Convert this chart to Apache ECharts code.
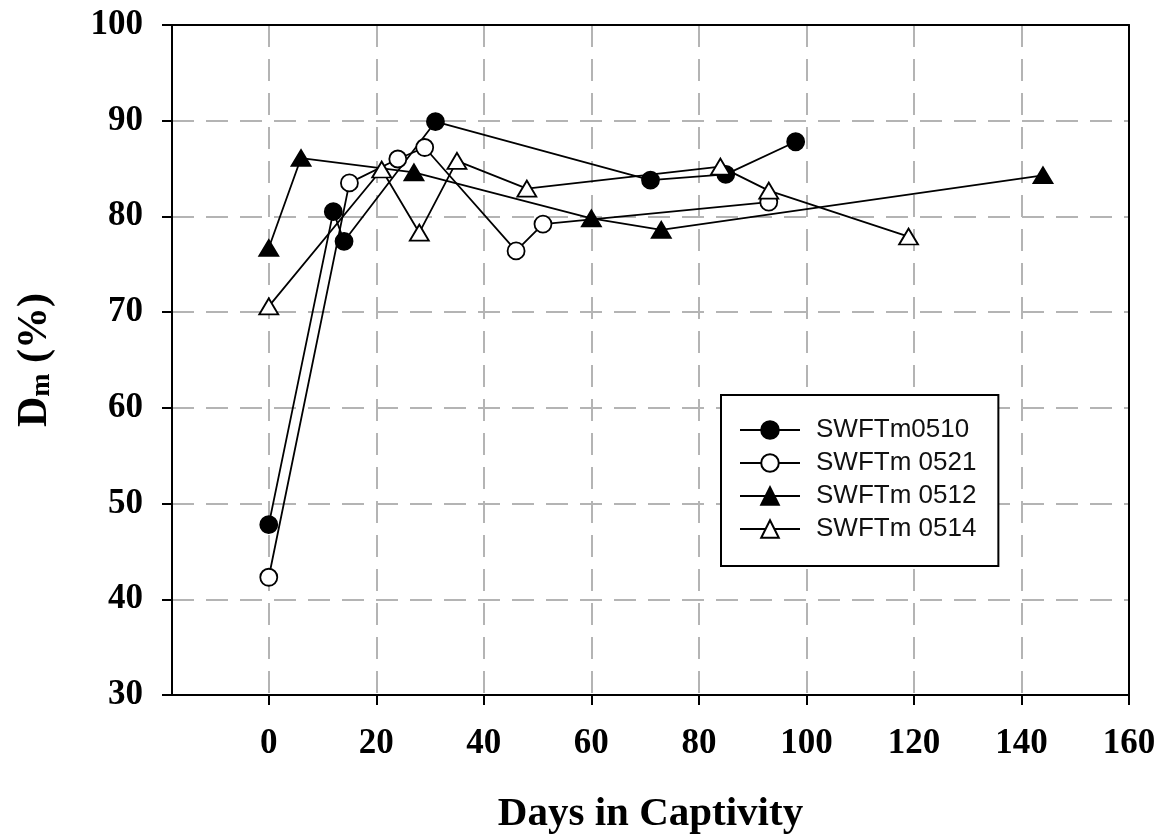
<!DOCTYPE html>
<html>
<head>
<meta charset="utf-8">
<script src="https://cdn.jsdelivr.net/npm/echarts@6/dist/echarts.min.js"></script>
<style>
html,body{margin:0;padding:0;background:#fff;}
#chart{width:1162px;height:835px;}
</style>
</head>
<body>
<div id="chart"></div>
<script>
// ---- data ----
const xTicks = [0, 20, 40, 60, 80, 100, 120, 140, 160];
const yTicks = [30, 40, 50, 60, 70, 80, 90, 100];
const seriesNames = ['SWFTm0510', 'SWFTm 0521', 'SWFTm 0512', 'SWFTm 0514'];
const s0510 = [[0, 47.8], [12, 80.5], [14, 77.4], [31, 89.9], [71, 83.8], [85, 84.4], [98, 87.8]];
const s0521 = [[0, 42.3], [15, 83.5], [24, 86.0], [29, 87.2], [46, 76.4], [51, 79.2], [93, 81.5]];
const s0512 = [[0, 76.7], [6, 86.1], [27, 84.6], [60, 79.8], [73, 78.6], [144, 84.3]];
const s0514 = [[0, 70.6], [21, 84.9], [28, 78.3], [35, 85.8], [48, 82.9], [84, 85.2], [93, 82.7], [119, 77.9]];

const serif = "'Liberation Serif', 'Times New Roman', serif";
const sans = "'Liberation Sans', Arial, sans-serif";
const gridLine = {show: true, lineStyle: {color: '#b4b4b4', width: 2, type: [22, 12]}};
const frameAxis = {
  axisLine: {show: true, onZero: false, lineStyle: {color: '#000', width: 2}},
  axisTick: {show: false}, axisLabel: {show: false}, splitLine: {show: false}
};

function mkSeries(name, data, symbol, filled) {
  const isTri = symbol === 'triangle';
  return {
    name: name, type: 'line', data: data,
    xAxisIndex: 0, yAxisIndex: 0,
    symbol: symbol,
    symbolSize: isTri ? [19, 16] : 17,
    showAllSymbol: true,
    lineStyle: {color: '#000', width: 1.8},
    itemStyle: {color: filled ? '#000' : '#fff', borderColor: '#000', borderWidth: 1.8},
    emphasis: {disabled: true},
    z: 3
  };
}

const chart = echarts.init(document.getElementById('chart'), null, {renderer: 'canvas'});
chart.setOption({
  animation: false,
  backgroundColor: '#fff',
  grid: {left: 172, right: 33, top: 25, bottom: 140, containLabel: false, outerBoundsMode: 'none'},
  xAxis: [{
    type: 'value', min: -18, max: 160, position: 'bottom',
    axisLine: {show: true, onZero: false, lineStyle: {color: '#000', width: 2}},
    axisTick: {show: true, inside: false, length: 10, lineStyle: {color: '#000', width: 2}, customValues: xTicks},
    axisLabel: {customValues: xTicks, margin: 31, fontFamily: serif, fontWeight: 'bold', fontSize: 35, color: '#000'},
    splitLine: gridLine,
    name: 'Days in Captivity', nameLocation: 'middle', nameGap: 99,
    nameTextStyle: {fontFamily: serif, fontWeight: 'bold', fontSize: 41, color: '#000'}
  }, Object.assign({type: 'value', min: -18, max: 160, position: 'top'}, frameAxis)],
  yAxis: [{
    type: 'value', min: 30, max: 100, interval: 10, position: 'left',
    axisLine: {show: true, onZero: false, lineStyle: {color: '#000', width: 2}},
    axisTick: {show: true, inside: false, length: 10, lineStyle: {color: '#000', width: 2}},
    axisLabel: {margin: 29, fontFamily: serif, fontWeight: 'bold', fontSize: 35, color: '#000'},
    splitLine: gridLine,
    name: '{d|D}{s|m}{d| (%)}', nameLocation: 'middle', nameGap: 116, nameRotate: 90,
    nameTextStyle: {
      rich: {
        d: {fontFamily: serif, fontWeight: 'bold', fontSize: 42, color: '#000', lineHeight: 56, verticalAlign: 'bottom'},
        s: {fontFamily: serif, fontWeight: 'bold', fontSize: 28, color: '#000', lineHeight: 28, verticalAlign: 'bottom'}
      }
    }
  }, Object.assign({type: 'value', min: 30, max: 100, position: 'right'}, frameAxis)],
  legend: {
    orient: 'vertical', left: 721, top: 395,
    padding: [22, 22, 24, 18],
    borderColor: '#000', borderWidth: 2, backgroundColor: '#fff',
    itemWidth: 60, itemHeight: 22, itemGap: 7,
    selectedMode: false,
    textStyle: {fontFamily: sans, fontSize: 26, color: '#111', padding: [0, 0, 0, 11], lineHeight: 26},
    data: seriesNames
  },
  series: [
    mkSeries(seriesNames[0], s0510, 'circle', true),
    mkSeries(seriesNames[1], s0521, 'circle', false),
    mkSeries(seriesNames[2], s0512, 'triangle', true),
    mkSeries(seriesNames[3], s0514, 'triangle', false)
  ]
});
</script>
</body>
</html>
